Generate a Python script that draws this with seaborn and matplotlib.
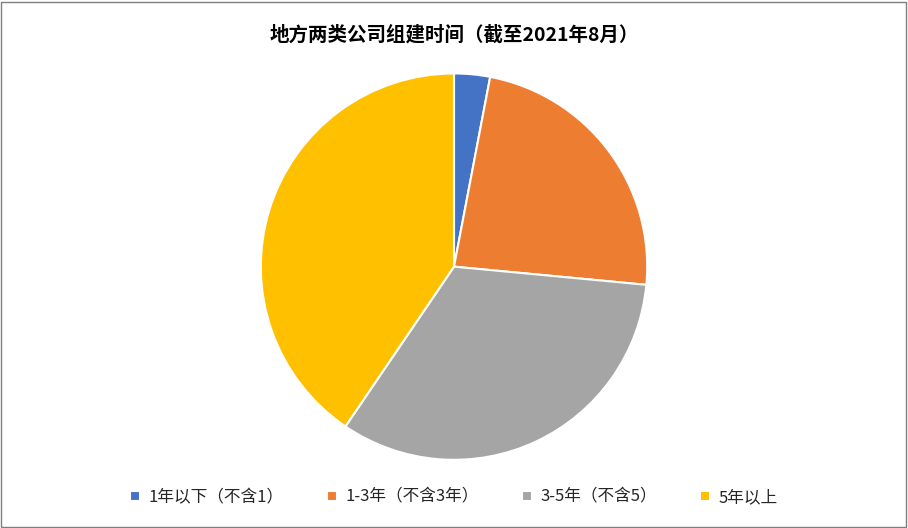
import matplotlib
matplotlib.use('Agg')
import matplotlib.pyplot as plt
import seaborn as sns
from matplotlib.patches import Rectangle

sns.set_style('white')
plt.rcParams['font.family'] = ['Noto Sans CJK SC', 'DejaVu Sans']

labels = ['1年以下（不含1）', '1-3年（不含3年）', '3-5年（不含5）', '5年以上']
values = [3.0, 23.5, 33.0, 40.5]
colors = ['#4472C4', '#ED7D31', '#A5A5A5', '#FFC000']

fig = plt.figure(figsize=(9.08, 5.28), dpi=100)
ax = fig.add_axes([0, 0.115, 1, 0.76])
wedges, _ = ax.pie(values, colors=colors, startangle=90, counterclock=False,
                   radius=1.0, wedgeprops=dict(edgecolor='white', linewidth=1.5))
ax.set_aspect('equal')
ax.set_xlim(-2.35, 2.35)
ax.set_ylim(-1.0, 1.0)

fig.text(0.5, 0.934, '地方两类公司组建时间（截至2021年8月）', ha='center', va='center',
         fontsize=14, fontweight='bold', color='#000000')
fig.legend(wedges, labels, loc='center', bbox_to_anchor=(0.5, 0.058), ncol=4,
           frameon=False, fontsize=12, handlelength=0.6, handleheight=0.6,
           columnspacing=2.6, handletextpad=0.5)
fig.patches.append(Rectangle((0.001, 0.002), 0.997, 0.995, transform=fig.transFigure,
                             fill=False, edgecolor='#7f7f7f', linewidth=1))
fig.savefig('out.png', dpi=100)
